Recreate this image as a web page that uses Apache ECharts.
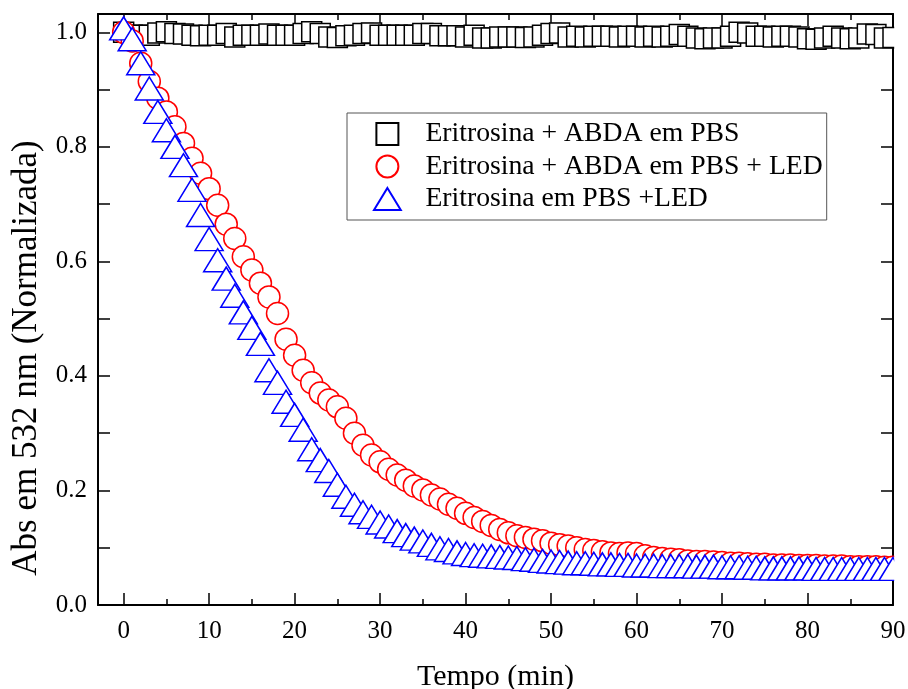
<!DOCTYPE html>
<html>
<head>
<meta charset="utf-8">
<script src="https://cdn.jsdelivr.net/npm/echarts@6/dist/echarts.min.js"></script>
<style>html,body{margin:0;padding:0;background:#fff}#chart{width:908px;height:689px}</style>
</head>
<body>
<div id="chart"></div>
<script>
const timeMin = [0,1,2,3,4,5,6,7,8,9,10,11,12,13,14,15,16,17,18,19,20,21,22,23,24,25,26,27,28,29,30,31,32,33,34,35,36,37,38,39,40,41,42,43,44,45,46,47,48,49,50,51,52,53,54,55,56,57,58,59,60,61,62,63,64,65,66,67,68,69,70,71,72,73,74,75,76,77,78,79,80,81,82,83,84,85,86,87,88,89,90];

const seriesNames = ['Eritrosina + ABDA em PBS', 'Eritrosina + ABDA em PBS + LED', 'Eritrosina em PBS +LED'];

const absDark = [1.000,0.995,0.995,0.995,0.999,1.001,0.998,0.997,0.995,0.994,
 0.995,0.995,0.998,0.992,0.995,0.995,0.995,0.997,0.995,0.995,
 0.995,0.998,1.001,0.998,0.992,0.991,0.994,0.995,0.998,0.999,
 0.995,0.995,0.995,0.995,0.995,0.998,0.998,0.994,0.994,0.994,
 0.992,0.995,0.990,0.990,0.992,0.992,0.992,0.991,0.992,0.995,
 0.998,0.999,0.992,0.993,0.992,0.993,0.993,0.993,0.992,0.993,
 0.993,0.992,0.993,0.992,0.993,0.996,0.993,0.990,0.989,0.990,
 0.990,0.993,1.000,0.999,0.993,0.993,0.992,0.993,0.993,0.992,
 0.989,0.988,0.990,0.993,0.990,0.989,0.990,0.997,0.996,0.990,
 0.991];

const absAbdaLed = [1.000,0.985,0.946,0.914,0.885,0.861,0.835,0.806,0.780,0.754,
 0.727,0.698,0.665,0.640,0.608,0.585,0.562,0.538,0.509,0.464,
 0.436,0.410,0.388,0.370,0.358,0.346,0.326,0.300,0.279,0.262,
 0.250,0.237,0.227,0.218,0.208,0.201,0.192,0.185,0.176,0.169,
 0.160,0.153,0.146,0.139,0.132,0.126,0.121,0.118,0.115,0.112,
 0.108,0.105,0.103,0.100,0.097,0.095,0.093,0.091,0.090,0.091,
 0.090,0.086,0.083,0.081,0.080,0.079,0.077,0.076,0.076,0.075,
 0.074,0.073,0.073,0.072,0.071,0.071,0.070,0.070,0.070,0.069,
 0.069,0.069,0.068,0.068,0.068,0.067,0.067,0.067,0.067,0.066,
 0.066];

const absEritLed = [1.000,0.981,0.939,0.895,0.854,0.822,0.793,0.761,0.718,0.674,
 0.632,0.595,0.563,0.533,0.504,0.477,0.449,0.403,0.381,0.348,
 0.325,0.299,0.265,0.246,0.227,0.203,0.182,0.168,0.155,0.147,
 0.137,0.130,0.122,0.115,0.109,0.104,0.098,0.092,0.089,0.085,
 0.082,0.080,0.079,0.078,0.077,0.076,0.075,0.073,0.072,0.070,
 0.069,0.068,0.067,0.066,0.066,0.065,0.064,0.064,0.063,0.063,
 0.062,0.062,0.062,0.061,0.061,0.061,0.061,0.060,0.060,0.060,
 0.059,0.059,0.059,0.058,0.058,0.057,0.057,0.057,0.057,0.057,
 0.057,0.056,0.056,0.056,0.056,0.056,0.056,0.056,0.056,0.056,
 0.056];

const xMajorTicks = [0,10,20,30,40,50,60,70,80,90];
const xMinorTicks = [5,15,25,35,45,55,65,75,85];
const yTicks = [0,0.1,0.2,0.3,0.4,0.5,0.6,0.7,0.8,0.9,1.0];
const yLabels = [0,0.2,0.4,0.6,0.8,1.0];

const FONT = '"Liberation Serif", "Times New Roman", serif';
const X_MIN = -3, X_MAX = 90, Y_MIN = 0, Y_MAX = 1.032;
const gridRect = {left: 98, top: 14, right: 15, bottom: 84, outerBoundsMode: 'none', containLabel: false};

function pairs(ys) { return timeMin.map((t, i) => [t, ys[i]]); }

const lineStyle = {color: '#000', width: 2};
const tickStyle = {color: '#000', width: 1.5};

const chart = echarts.init(document.getElementById('chart'), null, {renderer: 'canvas'});
chart.setOption({
  animation: false,
  backgroundColor: '#fff',
  grid: [Object.assign({}, gridRect), Object.assign({}, gridRect)],
  xAxis: [
    {type: 'value', gridIndex: 0, position: 'bottom', min: X_MIN, max: X_MAX,
     name: 'Tempo (min)', nameLocation: 'middle', nameGap: 57,
     nameTextStyle: {fontFamily: FONT, fontSize: 30, color: '#000'},
     axisLine: {lineStyle: lineStyle, onZero: false},
     axisTick: {inside: true, length: 12, lineStyle: tickStyle, customValues: xMajorTicks},
     axisLabel: {customValues: xMajorTicks, margin: 14, fontFamily: FONT, fontSize: 25, color: '#000'},
     splitLine: {show: false}},
    {type: 'value', gridIndex: 0, position: 'top', min: X_MIN, max: X_MAX,
     axisLine: {lineStyle: lineStyle, onZero: false},
     axisTick: {inside: true, length: 12, lineStyle: tickStyle, customValues: xMajorTicks},
     axisLabel: {show: false}, splitLine: {show: false}},
    {type: 'value', gridIndex: 1, position: 'bottom', min: X_MIN, max: X_MAX,
     axisLine: {show: false, onZero: false},
     axisTick: {inside: true, length: 6, lineStyle: tickStyle, customValues: xMinorTicks},
     axisLabel: {show: false}, splitLine: {show: false}},
    {type: 'value', gridIndex: 1, position: 'top', min: X_MIN, max: X_MAX,
     axisLine: {show: false, onZero: false},
     axisTick: {inside: true, length: 6, lineStyle: tickStyle, customValues: xMinorTicks},
     axisLabel: {show: false}, splitLine: {show: false}}
  ],
  yAxis: [
    {type: 'value', gridIndex: 0, position: 'left', min: Y_MIN, max: Y_MAX,
     name: 'Abs em 532 nm (Normalizada)', nameLocation: 'middle', nameGap: 54,
     nameTextStyle: {fontFamily: FONT, fontSize: 35, color: '#000', padding: [0, 97, 0, 0]},
     axisLine: {show: true, lineStyle: lineStyle, onZero: false},
     axisTick: {show: true, inside: true, length: 12, lineStyle: tickStyle, customValues: yTicks},
     axisLabel: {customValues: yLabels, margin: 11, fontFamily: FONT, fontSize: 25, color: '#000',
                 formatter: v => v.toFixed(1)},
     splitLine: {show: false}},
    {type: 'value', gridIndex: 0, position: 'right', min: Y_MIN, max: Y_MAX,
     axisLine: {show: true, lineStyle: lineStyle, onZero: false},
     axisTick: {show: true, inside: true, length: 12, lineStyle: tickStyle, customValues: yTicks},
     axisLabel: {show: false}, splitLine: {show: false}},
    {type: 'value', gridIndex: 1, min: Y_MIN, max: Y_MAX, show: false}
  ],
  legend: {
    orient: 'vertical', left: 347, top: 113,
    padding: [7, 4, 7, 26],
    itemWidth: 28, itemHeight: 22, itemGap: 4.5,
    borderColor: '#555', borderWidth: 1, backgroundColor: '#fff',
    selectedMode: false,
    textStyle: {fontFamily: FONT, fontSize: 27.7, color: '#000', padding: [0, 0, 0, 19]},
    data: [
      {name: seriesNames[0], icon: 'path://M0,0L20,0L20,20L0,20Z'},
      {name: seriesNames[1], icon: 'circle'},
      {name: seriesNames[2], icon: 'path://M14,0L28,23L0,23Z'}
    ]
  },
  graphic: [
    {type: 'rect', z: 100, silent: true,
     shape: {x: 894.2, y: 0, width: 20, height: 604}, style: {fill: '#fff'}}
  ],
  series: [
    {name: seriesNames[0], type: 'scatter', xAxisIndex: 0, yAxisIndex: 0,
     symbol: 'rect', symbolSize: 20, data: pairs(absDark),
     itemStyle: {color: '#fff', borderColor: '#000', borderWidth: 1.5, opacity: 1},
     emphasis: {disabled: true}},
    {name: seriesNames[1], type: 'scatter', xAxisIndex: 0, yAxisIndex: 0,
     symbol: 'circle', symbolSize: 22, data: pairs(absAbdaLed),
     itemStyle: {color: '#fff', borderColor: '#ff0000', borderWidth: 1.5, opacity: 1},
     emphasis: {disabled: true}},
    {name: seriesNames[2], type: 'scatter', xAxisIndex: 0, yAxisIndex: 0,
     symbol: 'triangle', symbolSize: [28, 23], symbolOffset: [0, -4], data: pairs(absEritLed),
     itemStyle: {color: '#fff', borderColor: '#0000ff', borderWidth: 1.5, opacity: 1},
     emphasis: {disabled: true}}
  ]
});
</script>
</body>
</html>
